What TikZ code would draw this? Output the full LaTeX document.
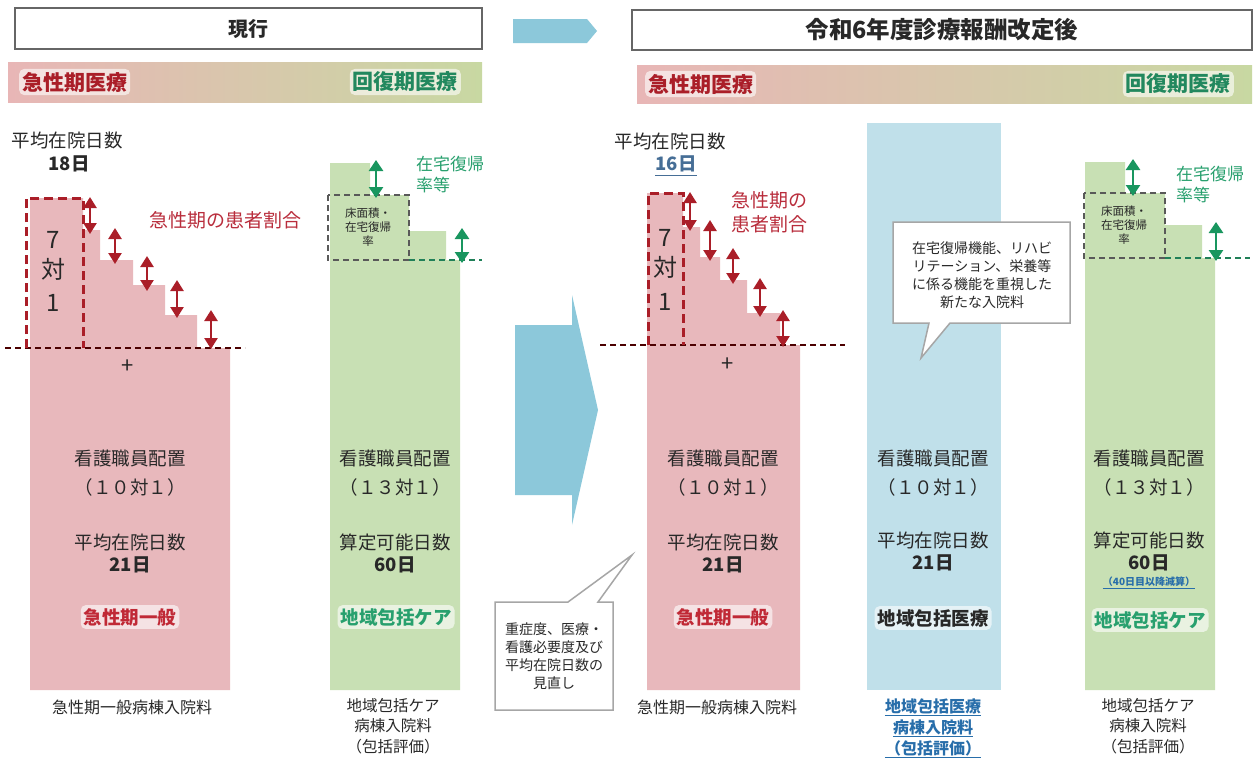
\documentclass[tikz,border=0pt]{standalone}
\usepackage{fontspec}
\setmainfont{Noto Sans CJK JP}
\usetikzlibrary{arrows.meta}
\definecolor{pinkbar}{RGB}{232,184,188}
\definecolor{greenbar}{RGB}{200,224,180}
\definecolor{bluebar}{RGB}{192,224,234}
\definecolor{arrowblue}{RGB}{140,200,218}
\definecolor{darkred}{RGB}{170,30,40}
\definecolor{redtxt}{RGB}{185,45,60}
\definecolor{greentxt}{RGB}{40,160,110}
\definecolor{dgreen}{RGB}{25,150,95}
\definecolor{txt}{RGB}{40,40,40}
\definecolor{bluetxt}{RGB}{40,110,170}
\definecolor{slateblue}{RGB}{70,110,150}
\definecolor{gradL}{RGB}{232,182,182}
\definecolor{gradM}{RGB}{222,204,178}
\definecolor{gradR}{RGB}{200,216,162}
\begin{document}
\begin{tikzpicture}[x=1pt,y=-1pt,
  every node/.style={inner sep=0pt, text=txt},
  headerbox/.style={draw=gray!80!black, line width=1.2pt, fill=white, font=\fontsize{20}{22}\selectfont\bfseries},
  body/.style={font=\fontsize{18.5}{22}\selectfont, align=center},
  bodybold/.style={font=\fontsize{18.5}{22}\selectfont\bfseries, align=center},
  glow/.style={fill=white, fill opacity=0.6, text opacity=1, inner sep=3pt, rounded corners=5pt},
  bartitle/.style={glow, font=\fontsize{21}{24}\selectfont\bfseries},
  label/.style={font=\fontsize{16}{20}\selectfont, align=center},
  callout/.style={draw=gray!70, line width=1.5pt, fill=white},
  callouttext/.style={font=\fontsize{14}{18}\selectfont, align=center},
  redarrow/.style={{Triangle[width=13pt,length=11pt]}-{Triangle[width=13pt,length=11pt]}, line width=2.4pt, draw=darkred},
  greenarrow/.style={{Triangle[width=14pt,length=11pt]}-{Triangle[width=14pt,length=11pt]}, line width=2.6pt, draw=dgreen},
  reddash/.style={draw=darkred, line width=3pt, dash pattern=on 9pt off 5pt},
  levelline/.style={draw=black!70!red, line width=1.5pt, dash pattern=on 6pt off 4pt},
  greenline/.style={draw=greentxt!80!black, line width=1.5pt, dash pattern=on 6pt off 4pt},
  graybox/.style={draw=black!65, line width=1.6pt, dash pattern=on 6pt off 4pt},
  smallbox/.style={font=\fontsize{11.5}{14}\selectfont, align=center},
  sidetext/.style={font=\fontsize{17}{21}\selectfont, align=left, anchor=west},
  bigfig/.style={font=\fontsize{24}{26}\selectfont}
]
\useasboundingbox (0,0) rectangle (1257,758);
\fill[white] (0,0) rectangle (1257,758);

% ---------- headers ----------
\node[headerbox, minimum width=467pt, minimum height=41pt] (hL) at (248.5,28.5) {現行};
\node[headerbox, minimum width=620pt, minimum height=40pt, font=\fontsize{23.5}{26}\selectfont\bfseries] (hR) at (942,30) {令和6年度診療報酬改定後};

\shade[left color=gradL, middle color=gradM, right color=gradR] (8,62) rectangle (482,102);
\shade[left color=gradL, middle color=gradM, right color=gradR] (637,65) rectangle (1252,103);
\node[bartitle, text=darkred, anchor=west] (acuteL) at (19,82) {急性期医療};
\node[bartitle, text=greentxt!85!black, anchor=east] (recovL) at (461,82) {回復期医療};
\node[bartitle, text=darkred, anchor=west] (acuteR) at (645,84) {急性期医療};
\node[bartitle, text=greentxt!85!black, anchor=east] (recovR) at (1234,84) {回復期医療};

% top arrow
\fill[arrowblue] (513,19) -- (587,19) -- (597,31) -- (587,43) -- (513,43) -- cycle;

% ---------- left pink ----------
\fill[pinkbar] (30,198) -- (83,198) -- (83,230) -- (100,230) -- (100,260) -- (133,260) -- (133,285)
  -- (165,285) -- (165,315) -- (197,315) -- (197,348) -- (230,348) -- (230,690) -- (30,690) -- cycle;
\draw[levelline] (5,348) -- (245,348);
\draw[reddash] (26,348) -- (26,198) -- (83,198) -- (83,348);
\node[bigfig] (s7L) at (53,240) {7};
\node[bigfig] (taiL) at (53,269) {対};
\node[bigfig] (s1L) at (53,303) {1};
\coordinate (la1) at (90,197); \coordinate (lb1) at (90,234);
\coordinate (la2) at (115,228); \coordinate (lb2) at (115,264);
\coordinate (la3) at (147,256); \coordinate (lb3) at (147,291);
\coordinate (la4) at (177,280); \coordinate (lb4) at (177,318);
\coordinate (la5) at (211,310); \coordinate (lb5) at (211,349);
\foreach \i in {1,...,5} \draw[redarrow] (la\i) -- (lb\i);
\node[font=\fontsize{19}{22}\selectfont, text=redtxt] (ratioL) at (225,220) {急性期の患者割合};
\node[font=\fontsize{22}{22}\selectfont] (plusL) at (128,367) {+};
\node[body] (avgL) at (67,140) {平均在院日数};
\node[bodybold] (d18) at (69,164) {18日};

\node[body] (n1) at (130,458) {看護職員配置};
\node[body] (n2) at (130,487) {（１０対１）};
\node[body] (n3) at (130,542) {平均在院日数};
\node[bodybold] (n4) at (130,565) {21日};
\node[glow, font=\fontsize{18.5}{22}\selectfont\bfseries, text=redtxt!90!red] (n5) at (130,617) {急性期一般};
\node[label] (n6) at (132,707) {急性期一般病棟入院料};

% ---------- left green ----------
\fill[greenbar] (330,163) -- (370,163) -- (370,195) -- (409,195) -- (409,231) -- (446,231) -- (446,260)
  -- (460,260) -- (460,690) -- (330,690) -- cycle;
\draw[graybox] (328,195) rectangle (409,260);
\draw[greenline] (409,260) -- (482,260);
\node[smallbox] (gbL) at (368,227) {床面積・\\在宅復帰\\率};
\coordinate (ga1) at (376,160); \coordinate (gb1) at (376,198);
\coordinate (ga2) at (462,228); \coordinate (gb2) at (462,263);
\draw[greenarrow] (ga1) -- (gb1);
\draw[greenarrow] (ga2) -- (gb2);
\node[sidetext, text=greentxt] (homeL) at (416,175) {在宅復帰\\率等};

\node[body] (g1) at (395,458) {看護職員配置};
\node[body] (g2) at (395,487) {（１３対１）};
\node[body] (g3) at (395,542) {算定可能日数};
\node[bodybold] (g4) at (395,565) {60日};
\node[glow, font=\fontsize{18.5}{22}\selectfont\bfseries, text=greentxt] (g5) at (396,617) {地域包括ケア};
\node[label, font=\fontsize{15.5}{20.5}\selectfont] (g6) at (393,726) {地域包括ケア\\病棟入院料\\（包括評価）};

% ---------- middle arrow and callout ----------
\fill[arrowblue] (515,325) -- (572,325) -- (572,295) -- (598,410) -- (572,525) -- (572,495) -- (515,495) -- cycle;
\draw[callout] (495,602) -- (568,602) -- (632,555) -- (598,602) -- (613,602) -- (613,710) -- (495,710) -- cycle;
\node[callouttext] (cL) at (554,656) {重症度、医療・\\看護必要度及び\\平均在院日数の\\見直し};

% ---------- right pink ----------
\fill[pinkbar] (647,193) -- (683,193) -- (683,227) -- (700,227) -- (700,257) -- (720,257) -- (720,280)
  -- (747,280) -- (747,313) -- (780,313) -- (780,345) -- (800,345) -- (800,690) -- (647,690) -- cycle;
\draw[levelline] (600,345) -- (845,345);
\draw[reddash] (648,345) -- (648,193) -- (683,193) -- (683,345);
\node[bigfig] (s7R) at (665,238) {7};
\node[bigfig] (taiR) at (665,267) {対};
\node[bigfig] (s1R) at (665,302) {1};
\coordinate (ra1) at (690,192); \coordinate (rb1) at (690,231);
\coordinate (ra2) at (710,220); \coordinate (rb2) at (710,261);
\coordinate (ra3) at (733,248); \coordinate (rb3) at (733,284);
\coordinate (ra4) at (760,278); \coordinate (rb4) at (760,317);
\coordinate (ra5) at (783,310); \coordinate (rb5) at (783,347);
\foreach \i in {1,...,5} \draw[redarrow] (ra\i) -- (rb\i);
\node[sidetext, font=\fontsize{19}{24}\selectfont, text=redtxt] (ratioR) at (731,212) {急性期の\\患者割合};
\node[font=\fontsize{22}{22}\selectfont] (plusR) at (728,365) {+};
\node[body] (avgR) at (670,141) {平均在院日数};
\node[bodybold, text=slateblue] (d16) at (676,164) {16日};
\draw[slateblue, line width=1.2pt] ([yshift=-3pt]d16.south west) -- ([yshift=-3pt]d16.south east);

\node[body] (p1) at (723,458) {看護職員配置};
\node[body] (p2) at (723,487) {（１０対１）};
\node[body] (p3) at (723,542) {平均在院日数};
\node[bodybold] (p4) at (723,565) {21日};
\node[glow, font=\fontsize{18.5}{22}\selectfont\bfseries, text=redtxt!90!red] (p5) at (723,617) {急性期一般};
\node[label] (p6) at (717,707) {急性期一般病棟入院料};

% ---------- right blue ----------
\fill[bluebar] (867,123) rectangle (1001,690);
\draw[callout] (893,222) -- (1070,222) -- (1070,323) -- (950,323) -- (921,358) -- (929,323) -- (893,323) -- cycle;
\node[callouttext] (cR) at (982,275) {在宅復帰機能、リハビ\\リテーション、栄養等\\に係る機能を重視した\\新たな入院料};
\node[body] (b1) at (933,458) {看護職員配置};
\node[body] (b2) at (933,487) {（１０対１）};
\node[body] (b3) at (933,540) {平均在院日数};
\node[bodybold] (b4) at (933,563) {21日};
\node[glow, font=\fontsize{18.5}{22}\selectfont\bfseries] (b5) at (933,618) {地域包括医療};
\node[font=\fontsize{16}{20}\selectfont\bfseries, text=bluetxt] (b6) at (933,706) {地域包括医療};
\node[font=\fontsize{16}{20}\selectfont\bfseries, text=bluetxt] (b7) at (933,727) {病棟入院料};
\node[font=\fontsize{16}{20}\selectfont\bfseries, text=bluetxt] (b8) at (933,748) {（包括評価）};
\foreach \n in {b6,b7,b8} \draw[bluetxt, line width=1pt] ([yshift=-2pt]\n.south west) -- ([yshift=-2pt]\n.south east);

% ---------- right green ----------
\fill[greenbar] (1085,162) -- (1125,162) -- (1125,193) -- (1165,193) -- (1165,225) -- (1202,225) -- (1202,258)
  -- (1215,258) -- (1215,690) -- (1085,690) -- cycle;
\draw[graybox] (1084,193) rectangle (1165,258);
\draw[greenline] (1165,258) -- (1250,258);
\node[smallbox] (gbR) at (1124,225) {床面積・\\在宅復帰\\率};
\coordinate (gc1) at (1133,159); \coordinate (gd1) at (1133,196);
\coordinate (gc2) at (1216,222); \coordinate (gd2) at (1216,261);
\draw[greenarrow] (gc1) -- (gd1);
\draw[greenarrow] (gc2) -- (gd2);
\node[sidetext, text=greentxt] (homeR) at (1176,185) {在宅復帰\\率等};

\node[body] (r1) at (1149,458) {看護職員配置};
\node[body] (r2) at (1149,487) {（１３対１）};
\node[body] (r3) at (1149,540) {算定可能日数};
\node[bodybold] (r4) at (1149,563) {60日};
\node[font=\fontsize{10}{12}\selectfont\bfseries, text=bluetxt] (r4b) at (1149,582) {（40日目以降減算）};
\draw[bluetxt, line width=0.8pt] ([yshift=-1.5pt]r4b.south west) -- ([yshift=-1.5pt]r4b.south east);
\node[glow, font=\fontsize{18.5}{22}\selectfont\bfseries, text=greentxt] (r5) at (1150,620) {地域包括ケア};
\node[label, font=\fontsize{15.5}{20.5}\selectfont] (r6) at (1148,726) {地域包括ケア\\病棟入院料\\（包括評価）};
\end{tikzpicture}
\end{document}
